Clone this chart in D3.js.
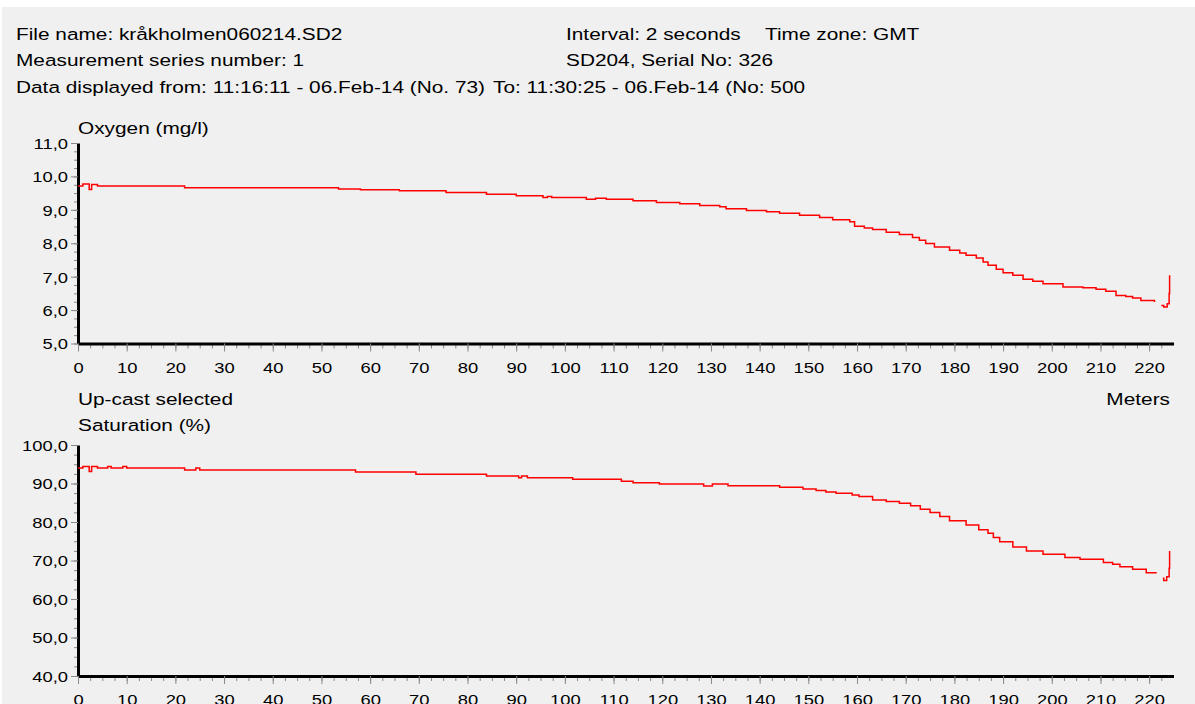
<!DOCTYPE html>
<html>
<head>
<meta charset="utf-8">
<script src="https://cdn.jsdelivr.net/npm/d3@7"></script>
<style>
  body { margin: 0; background: #fff; }
  text { font-family: "Liberation Sans", Arial, sans-serif; fill: #000; }
</style>
</head>
<body>
<script>
// depth (m) and oxygen (mg/l), null = gap in the record
var oxyDepth = [0, 1, 2.3, 2.8, 4, 21.9, 53.5, 58, 66, 75.6, 83.9, 90, 95.5, 96.4, 97.3, 104.4, 106.3, 108.5, 114, 118.8,
  123.6, 127.7, 131.8, 133.1, 137.3, 141.4, 144.1, 148.2, 152.3, 155, 158.5, 159.5, 161.5, 163.2, 166, 168.7, 171.4,
  172.8, 174.1, 175.9, 179, 181.1, 182.4, 184.5, 185.9, 186.9, 188.6, 190, 192, 194.1, 196.1, 198.2, 202.3, 206.4,
  209.1, 211.1, 213.2, 215.2, 216.6, 218.3, 221.1, 222, 222.5, 223, 223.7, 224.1, 224.2];
var oxygen = [9.71, 9.77, 9.61, 9.76, 9.71, 9.66, 9.62, 9.6, 9.57, 9.52, 9.47, 9.42, 9.37, 9.4, 9.37, 9.32, 9.35, 9.32, 9.27, 9.22,
  9.18, 9.13, 9.09, 9.03, 8.98, 8.94, 8.9, 8.84, 8.77, 8.7, 8.64, 8.51, 8.46, 8.41, 8.33, 8.26, 8.17,
  8.09, 7.99, 7.89, 7.79, 7.71, 7.64, 7.56, 7.44, 7.34, 7.22, 7.12, 7.04, 6.92, 6.86, 6.79, 6.69, 6.67,
  6.62, 6.56, 6.44, 6.41, 6.36, 6.29, 6.24, null, 6.14, 6.09, 6.19, 6.5, 7.04];

// depth (m) and oxygen saturation (%)
var satDepth = [0, 1, 2.3, 2.8, 4, 6.1, 6.8, 9.2, 10, 21.9, 24.2, 25, 57, 69.4, 83.9, 90.5, 91.1, 92.3, 101.6, 111.6, 114,
  119.4, 128.5, 130.3, 133.5, 144.1, 148.9, 151.6, 153.6, 155.7, 159, 160.4, 163.2, 166, 168.7, 171, 173, 175, 177, 179,
  182.4, 185, 186.9, 188, 189.3, 192, 194.8, 198.2, 202.7, 205.8, 210.6, 212.5, 214, 216.6, 219.4, 221.4, 222, 222.8,
  223, 223.6, 224.1, 224.2];
var saturation = [94.0, 94.4, 93.1, 94.4, 94.0, 94.4, 94.0, 94.4, 94.0, 93.5, 94.0, 93.5, 93.0, 92.4, 91.95, 91.5, 91.95, 91.5, 91.1, 90.6, 90.2,
  89.9, 89.35, 89.9, 89.4, 89.0, 88.6, 88.2, 87.8, 87.45, 87.0, 86.6, 85.7, 85.3, 84.85, 84.2, 83.3, 82.5, 81.4, 80.3,
  79.2, 78.0, 77.1, 76.0, 74.9, 73.5, 72.5, 71.6, 70.8, 70.3, 69.5, 69.0, 68.4, 67.7, 66.8, 66.6, null, 65.4,
  64.8, 65.8, 68.0, 72.5];

var depthTicks = [0, 10, 20, 30, 40, 50, 60, 70, 80, 90, 100, 110, 120, 130, 140, 150, 160, 170, 180, 190, 200, 210, 220];
var oxyTicks = [5, 6, 7, 8, 9, 10, 11];
var satTicks = [40, 50, 60, 70, 80, 90, 100];

var headerLeft = ["File name: kråkholmen060214.SD2", "Measurement series number: 1",
  "Data displayed from: 11:16:11 - 06.Feb-14 (No. 73)"];

var width = 1195, height = 704;
var sx = 1.225; // the original screenshot is stretched sideways

var svg = d3.select("body").append("svg")
    .attr("width", width)
    .attr("height", height);

svg.append("rect")
    .attr("x", 2).attr("y", 7)
    .attr("width", width - 2).attr("height", height - 7)
    .attr("fill", "#f0f0f0");

function label(x, y, txt, size, anchor) {
  return svg.append("text")
      .attr("transform", "translate(" + x + "," + y + ") scale(" + sx + ",1)")
      .attr("font-size", size)
      .attr("text-anchor", anchor || "start")
      .text(txt);
}

// header
var rows = [40, 66, 93];
headerLeft.forEach(function(t, i) { label(16, rows[i], t, 17); });
label(566, rows[0], "Interval: 2 seconds", 17);
label(765, rows[0], "Time zone: GMT", 17);
label(566, rows[1], "SD204, Serial No: 326", 17);
label(493, rows[2], "To: 11:30:25 - 06.Feb-14 (No: 500", 17);

label(78, 134, "Oxygen (mg/l)", 17);
label(78, 405, "Up-cast selected", 17);
label(1170, 405, "Meters", 17, "end");
label(78, 431, "Saturation (%)", 17);

var x = d3.scaleLinear().domain([0, 225]).range([78, 1173.5]);
var fmt = function(d) { return d.toFixed(1).replace(".", ","); };

function panel(yDomain, yRange, yTicks, minorStep, depth, values) {
  var y = d3.scaleLinear().domain(yDomain).range(yRange);
  var x0 = x.range()[0], yb = yRange[0];

  // minor ticks
  svg.append("g")
      .attr("transform", "translate(" + x0 + ",0)")
      .call(d3.axisLeft(y).tickValues(d3.range(yDomain[0], yDomain[1] + 1e-6, minorStep)).tickSize(4).tickFormat(""))
      .call(function(g) { g.select(".domain").remove(); g.selectAll("line").attr("stroke", "#888"); });
  svg.append("g")
      .attr("transform", "translate(0," + yb + ")")
      .call(d3.axisBottom(x).tickValues(d3.range(0, 225, 2.5)).tickSize(5).tickFormat(""))
      .call(function(g) { g.select(".domain").remove(); g.selectAll("line").attr("stroke", "#888"); });

  // y axis
  svg.append("g")
      .attr("transform", "translate(" + x0 + ",0)")
      .call(d3.axisLeft(y).tickValues(yTicks).tickSize(7).tickSizeOuter(0).tickFormat(fmt))
      .call(function(g) {
        g.select(".domain").attr("stroke", "#000").attr("stroke-width", 3);
        g.selectAll(".tick line").attr("stroke", "#888");
        g.selectAll(".tick text")
            .attr("x", null).attr("dy", "0.36em")
            .attr("transform", "translate(-10,0) scale(" + sx + ",1)")
            .attr("font-size", 15).attr("font-family", null);
      });

  // x axis
  svg.append("g")
      .attr("transform", "translate(0," + yb + ")")
      .call(d3.axisBottom(x).tickValues(depthTicks).tickSize(8).tickSizeOuter(0))
      .call(function(g) {
        g.select(".domain").attr("stroke", "#000").attr("stroke-width", 3);
        g.selectAll(".tick line").attr("stroke", "#888");
        g.selectAll(".tick text")
            .attr("y", null).attr("dy", null)
            .attr("transform", "translate(0,29) scale(" + sx + ",1)")
            .attr("font-size", 15).attr("font-family", null);
      });

  var line = d3.line()
      .defined(function(d) { return d[1] != null; })
      .x(function(d) { return x(d[0]); })
      .y(function(d) { return y(d[1]); })
      .curve(d3.curveStepAfter);

  svg.append("path")
      .datum(depth.map(function(d, i) { return [d, values[i]]; }))
      .attr("fill", "none")
      .attr("stroke", "#ff0000")
      .attr("stroke-width", 1.5)
      .attr("d", line);
}

panel([5, 11], [343.5, 143], oxyTicks, 0.25, oxyDepth, oxygen);
panel([40, 100], [676, 445], satTicks, 2.5, satDepth, saturation);
</script>
</body>
</html>
